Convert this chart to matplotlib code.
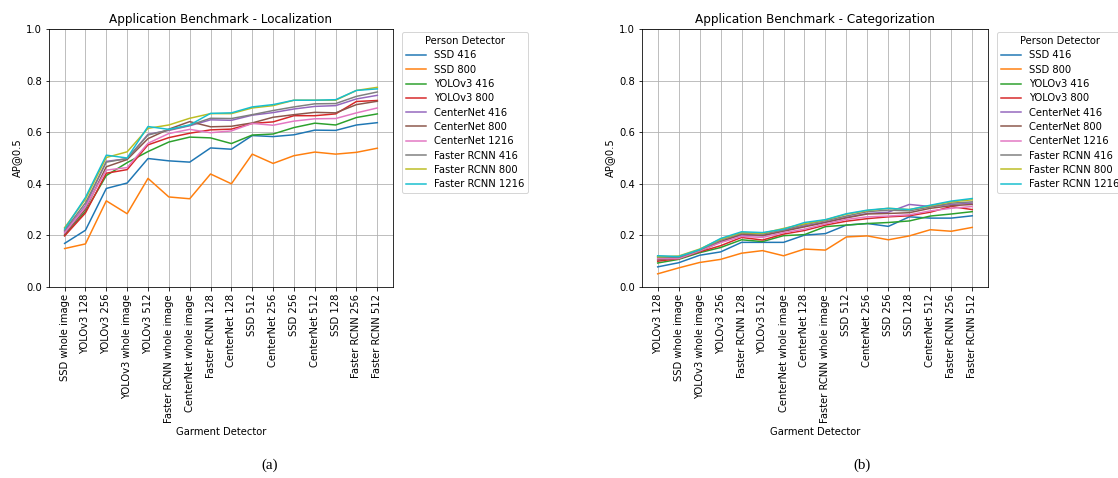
import matplotlib.pyplot as plt

# Person detector variants (legend)
person_detectors = ['SSD 416', 'SSD 800', 'YOLOv3 416', 'YOLOv3 800',
                    'CenterNet 416', 'CenterNet 800', 'CenterNet 1216',
                    'Faster RCNN 416', 'Faster RCNN 800', 'Faster RCNN 1216']

# Garment detectors, ordered as on each x axis
loc_garment = ['SSD whole image', 'YOLOv3 128', 'YOLOv3 256', 'YOLOv3 whole image',
               'YOLOv3 512', 'Faster RCNN whole image', 'CenterNet whole image',
               'Faster RCNN 128', 'CenterNet 128', 'SSD 512', 'CenterNet 256',
               'SSD 256', 'CenterNet 512', 'SSD 128', 'Faster RCNN 256',
               'Faster RCNN 512']
cat_garment = ['YOLOv3 128', 'SSD whole image', 'YOLOv3 whole image', 'YOLOv3 256',
               'Faster RCNN 128', 'YOLOv3 512', 'CenterNet whole image',
               'CenterNet 128', 'Faster RCNN whole image', 'SSD 512', 'CenterNet 256',
               'SSD 256', 'SSD 128', 'CenterNet 512', 'Faster RCNN 256',
               'Faster RCNN 512']

# AP@0.5 - Localization
loc_ssd416 = [0.169, 0.220, 0.382, 0.403, 0.498, 0.489, 0.484, 0.539, 0.534, 0.587,
              0.583, 0.590, 0.608, 0.607, 0.628, 0.637]
loc_ssd800 = [0.149, 0.167, 0.334, 0.284, 0.421, 0.349, 0.342, 0.438, 0.400, 0.515,
              0.479, 0.509, 0.523, 0.515, 0.522, 0.538]
loc_yolo416 = [0.200, 0.293, 0.432, 0.482, 0.525, 0.562, 0.581, 0.578, 0.556, 0.589,
               0.593, 0.618, 0.635, 0.628, 0.657, 0.671]
loc_yolo800 = [0.198, 0.287, 0.441, 0.455, 0.551, 0.579, 0.596, 0.609, 0.612, 0.634,
               0.640, 0.664, 0.664, 0.671, 0.719, 0.723]
loc_cn416 = [0.214, 0.315, 0.487, 0.497, 0.592, 0.607, 0.625, 0.648, 0.646, 0.666,
             0.676, 0.690, 0.700, 0.703, 0.729, 0.743]
loc_cn800 = [0.205, 0.302, 0.466, 0.494, 0.575, 0.612, 0.641, 0.621, 0.623, 0.636,
             0.658, 0.668, 0.677, 0.675, 0.707, 0.720]
loc_cn1216 = [0.210, 0.310, 0.453, 0.463, 0.557, 0.595, 0.611, 0.598, 0.605, 0.634,
              0.627, 0.643, 0.652, 0.653, 0.675, 0.694]
loc_frcnn416 = [0.220, 0.326, 0.484, 0.498, 0.589, 0.609, 0.627, 0.654, 0.653, 0.668,
                0.684, 0.698, 0.710, 0.711, 0.739, 0.756]
loc_frcnn800 = [0.230, 0.340, 0.502, 0.524, 0.615, 0.628, 0.654, 0.672, 0.672, 0.694,
                0.703, 0.724, 0.724, 0.724, 0.762, 0.774]
loc_frcnn1216 = [0.225, 0.347, 0.511, 0.500, 0.622, 0.611, 0.628, 0.673, 0.675, 0.698,
                 0.707, 0.724, 0.724, 0.726, 0.762, 0.768]

# AP@0.5 - Categorization
cat_ssd416 = [0.078, 0.094, 0.123, 0.136, 0.173, 0.173, 0.173, 0.201, 0.207, 0.240,
              0.246, 0.235, 0.272, 0.267, 0.267, 0.276]
cat_ssd800 = [0.051, 0.074, 0.095, 0.107, 0.131, 0.141, 0.121, 0.147, 0.143, 0.194,
              0.198, 0.183, 0.198, 0.222, 0.216, 0.231]
cat_yolo416 = [0.093, 0.107, 0.133, 0.153, 0.183, 0.176, 0.199, 0.203, 0.234, 0.240,
               0.246, 0.250, 0.256, 0.275, 0.283, 0.292]
cat_yolo800 = [0.100, 0.110, 0.136, 0.160, 0.192, 0.182, 0.205, 0.219, 0.240, 0.255,
               0.265, 0.272, 0.276, 0.290, 0.312, 0.300]
cat_cn416 = [0.120, 0.115, 0.140, 0.178, 0.201, 0.198, 0.218, 0.237, 0.252, 0.270,
             0.285, 0.290, 0.320, 0.312, 0.320, 0.325]
cat_cn800 = [0.105, 0.112, 0.138, 0.175, 0.205, 0.200, 0.216, 0.233, 0.250, 0.268,
             0.283, 0.285, 0.288, 0.305, 0.315, 0.320]
cat_cn1216 = [0.110, 0.110, 0.140, 0.172, 0.196, 0.192, 0.211, 0.224, 0.245, 0.262,
              0.272, 0.275, 0.280, 0.295, 0.305, 0.312]
cat_frcnn416 = [0.115, 0.115, 0.143, 0.182, 0.208, 0.205, 0.221, 0.242, 0.257, 0.275,
                0.292, 0.298, 0.295, 0.310, 0.325, 0.330]
cat_frcnn800 = [0.117, 0.120, 0.147, 0.185, 0.211, 0.208, 0.227, 0.245, 0.260, 0.282,
                0.296, 0.305, 0.300, 0.315, 0.330, 0.338]
cat_frcnn1216 = [0.121, 0.118, 0.145, 0.188, 0.214, 0.211, 0.224, 0.250, 0.261, 0.284,
                 0.298, 0.305, 0.300, 0.317, 0.333, 0.343]

loc_series = [loc_ssd416, loc_ssd800, loc_yolo416, loc_yolo800, loc_cn416,
              loc_cn800, loc_cn1216, loc_frcnn416, loc_frcnn800, loc_frcnn1216]
cat_series = [cat_ssd416, cat_ssd800, cat_yolo416, cat_yolo800, cat_cn416,
              cat_cn800, cat_cn1216, cat_frcnn416, cat_frcnn800, cat_frcnn1216]

fig = plt.figure(figsize=(1118 / 72, 478 / 72), dpi=72)
ax1 = fig.add_axes([0.0438, 0.3996, 0.3077, 0.5397])
ax2 = fig.add_axes([0.5742, 0.3996, 0.3095, 0.5397])

panels = [(ax1, loc_garment, loc_series, 'Application Benchmark - Localization'),
          (ax2, cat_garment, cat_series, 'Application Benchmark - Categorization')]

for ax, garments, series, title in panels:
    for name, vals in zip(person_detectors, series):
        ax.plot(garments, vals, label=name)
    ax.set_ylim(0, 1.0)
    ax.set_title(title)
    ax.set_xlabel('Garment Detector')
    ax.set_ylabel('AP@0.5')
    ax.tick_params(axis='x', labelrotation=90)
    ax.grid(True)
    ax.legend(title='Person Detector', loc='upper left', labelspacing=0.43,
              bbox_to_anchor=(1.026, 0.988), borderaxespad=0)

# sub-figure captions
fig.text(0.241, 0.012, '(a)', family='Liberation Serif', fontsize=15,
         ha='center', va='bottom')
fig.text(0.771, 0.012, '(b)', family='Liberation Serif', fontsize=15,
         ha='center', va='bottom')

fig.savefig('out.png', dpi=72)
